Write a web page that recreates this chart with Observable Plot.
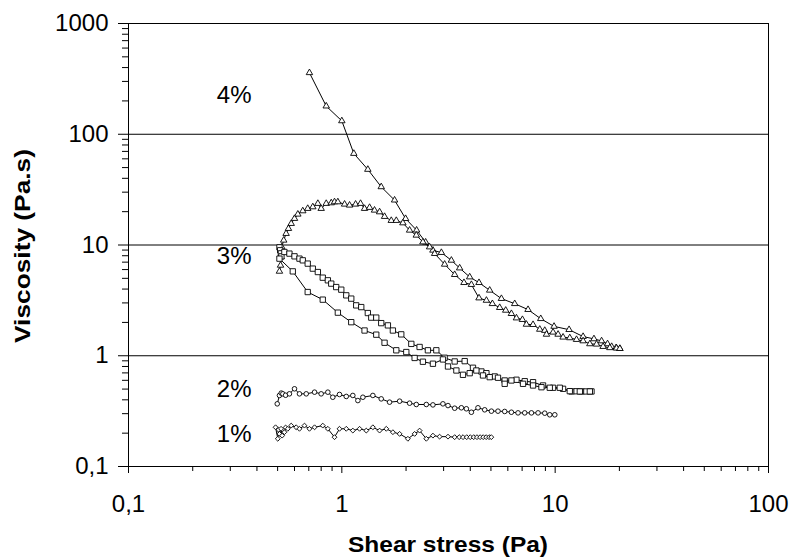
<!DOCTYPE html>
<html><head><meta charset="utf-8">
<script src="https://cdn.jsdelivr.net/npm/d3@7"></script>
<script src="https://cdn.jsdelivr.net/npm/@observablehq/plot@0.6"></script>
<style>body{margin:0;background:#fff}</style>
</head><body><div id="chart"></div>
<script>
// Axis ticks
const xMajor = [0.1, 1, 10, 100];
const xMinor = [0.2,0.3,0.4,0.5,0.6,0.7,0.8,0.9,2,3,4,5,6,7,8,9,20,30,40,50,60,70,80,90];
const yMajor = [0.1, 1, 10, 100, 1000];
const yMinor = [0.2,0.3,0.4,0.5,0.6,0.7,0.8,0.9,2,3,4,5,6,7,8,9,20,30,40,50,60,70,80,90,200,300,400,500,600,700,800,900];
const gridY = [1, 10, 100];

// Concentration labels
const labelText = ["4%", "3%", "2%", "1%"];
const labelX = [0.313, 0.313, 0.313, 0.313];
const labelY = [223, 7.9, 0.495, 0.194];

// 4% (triangles) – curve starting high (down sweep)
const x4a = [0.705,0.845,1.0,1.138,1.324,1.53,1.767,1.99,2.241,2.471,2.673,2.928,3.262,3.567,3.975,4.395,4.933,5.598,6.462,7.462,8.558,9.88,11.62,13.52,15.2,16.5,17.6,18.4,19.3,20.1];
const y4a = [359,179.5,132,67,48.1,33.5,25.4,17.3,13.6,10.6,8.96,8.54,7.27,6.19,5.14,4.57,3.9,3.28,2.95,2.61,2.16,1.84,1.72,1.49,1.42,1.36,1.28,1.21,1.18,1.16];
// 4% (triangles) – curve rising then falling
const x4b = [0.51,0.516,0.519,0.523,0.534,0.548,0.562,0.579,0.6,0.622,0.656,0.692,0.731,0.772,0.8,0.845,0.892,0.924,0.958,1.03,1.087,1.16,1.224,1.278,1.349,1.423,1.503,1.586,1.705,1.8,1.933,2.078,2.234,2.399,2.579,2.723,3.033,3.38,3.737,4.048,4.395,4.761,5.078,5.495,5.864,6.235,6.584,7.023,7.333,7.876,8.469,8.938,9.104,9.775,10.32,10.89,11.71,12.59,13.52,14.54,15.63,16.78,18.04,19.4,20.1];
const y4b = [5.78,6.55,7.79,9.59,11.03,12.68,14.07,15.61,17.33,18.95,20.3,21.34,22.06,23.68,21.34,23.68,23.98,24.48,24.48,23.33,22.86,23.33,23.68,21.34,21.79,20.59,19.88,18.06,16.62,16.62,15.81,13.58,12.24,10.64,9.59,8.36,6.69,5.4,4.57,4.39,3.32,3.16,2.95,2.72,2.57,2.4,2.19,2.12,1.92,1.91,1.73,1.69,1.56,1.63,1.56,1.47,1.45,1.4,1.36,1.28,1.27,1.21,1.18,1.17,1.16];

// 3% (squares) – dense curve
const x3a = [0.51,0.514,0.518,0.521,0.538,0.568,0.6,0.633,0.656,0.692,0.731,0.772,0.814,0.86,0.892,0.941,0.994,1.049,1.107,1.168,1.233,1.324,1.374,1.45,1.53,1.644,1.735,1.899,2.117,2.315,2.532,2.773,3.033,3.38,3.766,4.119,4.51,4.761,5.206,5.8,6.584,7.2,7.876,8.774,9.775,10.89,11.93,12.6,13.29,14.0,14.8];
const y3a = [9.53,8.96,8.41,7.9,8.65,8.36,7.9,7.53,7.27,6.79,6.12,5.7,5.07,4.8,4.48,4.17,3.95,3.51,3.28,2.85,2.75,2.43,2.21,2.21,1.97,1.88,1.69,1.56,1.28,1.2,1.12,1.12,0.959,0.888,0.894,0.779,0.721,0.696,0.65,0.598,0.607,0.589,0.577,0.539,0.514,0.503,0.476,0.478,0.476,0.476,0.476];
// 3% (squares) – sparse curve
const x3b = [0.51,0.589,0.692,0.814,0.958,1.107,1.278,1.45,1.586,1.8,2.005,2.194,2.399,2.673,2.978,3.145,3.443,3.697,3.975,4.272,4.589,4.933,5.395,5.8,6.235,7.069,7.876,8.625,9.434,10.51,11.71,13.05,14.54];
const y3b = [7.53,5.78,3.76,3.21,2.45,2.01,1.69,1.55,1.31,1.12,1.08,0.955,0.883,0.847,0.926,0.8,0.736,0.673,0.696,0.736,0.664,0.641,0.633,0.558,0.598,0.558,0.539,0.52,0.514,0.514,0.479,0.476,0.476];

// 2% (circles)
const x2 = [0.498,0.51,0.52,0.529,0.545,0.568,0.6,0.633,0.681,0.745,0.8,0.86,0.907,0.975,1.049,1.126,1.189,1.255,1.398,1.53,1.674,1.866,2.078,2.234,2.489,2.673,2.978,3.145,3.38,3.634,3.835,4.048,4.347,4.674,5.024,5.395,5.8,6.235,6.698,7.2,7.741,8.315,8.938,9.434,9.96];
const y2 = [0.368,0.438,0.46,0.453,0.44,0.453,0.503,0.453,0.453,0.469,0.453,0.469,0.422,0.447,0.429,0.438,0.394,0.422,0.438,0.408,0.381,0.389,0.373,0.363,0.363,0.36,0.368,0.355,0.336,0.339,0.332,0.309,0.339,0.325,0.316,0.316,0.314,0.309,0.305,0.305,0.305,0.305,0.303,0.293,0.293];

// 1% (diamonds)
const x1 = [0.489,0.501,0.505,0.51,0.519,0.525,0.538,0.545,0.558,0.579,0.611,0.633,0.668,0.705,0.745,0.814,0.86,0.924,0.975,1.049,1.126,1.211,1.302,1.398,1.503,1.616,1.735,1.866,2.04,2.194,2.315,2.489,2.673,2.873,3.145,3.38,3.55,3.7,3.85,4.0,4.15,4.3,4.45,4.6,4.75,4.9,5.02];
const y1 = [0.226,0.178,0.215,0.197,0.219,0.19,0.204,0.225,0.219,0.234,0.226,0.219,0.234,0.219,0.226,0.234,0.219,0.184,0.219,0.219,0.211,0.219,0.211,0.226,0.211,0.219,0.204,0.197,0.178,0.197,0.211,0.178,0.19,0.186,0.186,0.184,0.184,0.184,0.184,0.184,0.184,0.184,0.184,0.184,0.184,0.184,0.184];

const fmt = d => String(d).replace(".", ",");
const toRows = (xs, ys) => xs.map((x, i) => ({x, y: ys[i]}));
const curves = [
  {rows: toRows(x4a, y4a), symbol: "triangle", r: 2.4},
  {rows: toRows(x4b, y4b), symbol: "triangle", r: 2.4},
  {rows: toRows(x3a, y3a), symbol: "square", r: 3},
  {rows: toRows(x3b, y3b), symbol: "square", r: 3},
  {rows: toRows(x2, y2), symbol: "circle", r: 2.3},
  {rows: toRows(x1, y1), symbol: "diamond2", r: 2.2}
];
const labels = labelText.map((t, i) => ({t, x: labelX[i], y: labelY[i]}));

const marks = [
  Plot.ruleY(gridY, {stroke: "#000", strokeWidth: 1}),
  Plot.frame({stroke: "#000", strokeWidth: 1}),
  Plot.axisY({ticks: yMajor, tickSize: 10, tickPadding: 10, tickFormat: fmt, label: null, fontSize: 24}),
  Plot.axisY({ticks: yMinor, tickSize: 6, tickFormat: () => "", label: null}),
  Plot.axisX({ticks: xMajor, tickSize: 7, tickPadding: 21, tickFormat: fmt, label: null, fontSize: 24}),
  Plot.axisX({ticks: xMinor, tickSize: 5, tickFormat: () => "", label: null})
];
for (const c of curves) {
  marks.push(Plot.line(c.rows, {x: "x", y: "y", stroke: "#000", strokeWidth: 1}));
}
for (const c of curves) {
  marks.push(Plot.dot(c.rows, {x: "x", y: "y", symbol: c.symbol, r: c.r, stroke: "#000", strokeWidth: 0.9, fill: "#fff"}));
}
marks.push(Plot.text(labels, {x: "x", y: "y", text: "t", fontSize: 24, fill: "#000"}));

const chart = Plot.plot({
  width: 791,
  height: 558,
  marginLeft: 128,
  marginRight: 23,
  marginTop: 23,
  marginBottom: 92,
  style: {fontFamily: "'Liberation Sans', Arial, sans-serif", fontSize: "24px", background: "#fff", color: "#000"},
  x: {type: "log", domain: [0.1, 100]},
  y: {type: "log", domain: [0.1, 1000]},
  marks
});
document.getElementById("chart").appendChild(chart);

const svg = d3.select(chart);
svg.append("text")
  .attr("x", 448).attr("y", 552)
  .attr("text-anchor", "middle")
  .attr("font-weight", "bold").attr("font-size", 22)
  .attr("textLength", 200).attr("lengthAdjust", "spacingAndGlyphs")
  .attr("fill", "#000")
  .text("Shear stress (Pa)");
svg.append("text")
  .attr("transform", "translate(30,246) rotate(-90)")
  .attr("text-anchor", "middle")
  .attr("font-weight", "bold").attr("font-size", 22)
  .attr("textLength", 194).attr("lengthAdjust", "spacingAndGlyphs")
  .attr("fill", "#000")
  .text("Viscosity (Pa.s)");
</script>
</body></html>
